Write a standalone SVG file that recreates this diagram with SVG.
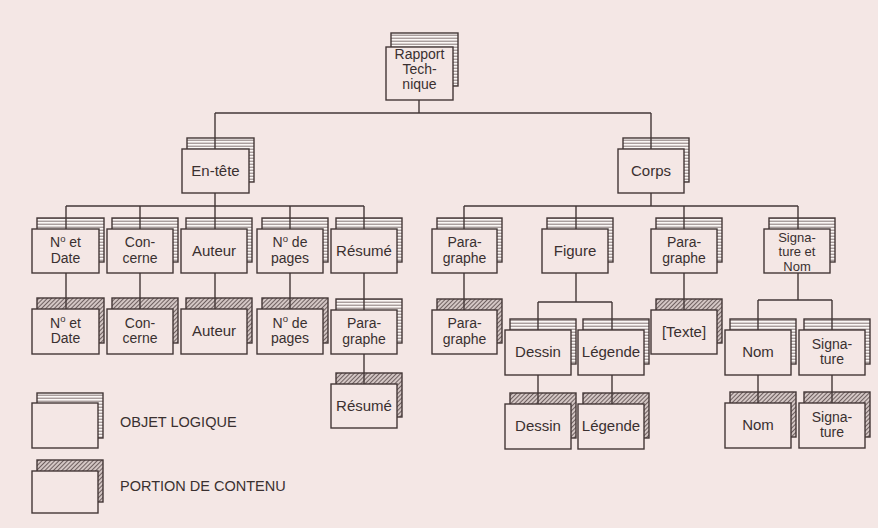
<svg xmlns="http://www.w3.org/2000/svg" width="878" height="528" viewBox="0 0 878 528">
<defs>
<pattern id="stripes" patternUnits="userSpaceOnUse" width="6" height="3">
<rect width="6" height="3" fill="#fbf7f5"/>
<line x1="0" y1="2.2" x2="6" y2="2.2" stroke="#776868" stroke-width="0.9"/>
</pattern>
<pattern id="hatch" patternUnits="userSpaceOnUse" width="3" height="3" patternTransform="rotate(45)">
<rect width="3" height="3" fill="#d8cbc9"/>
<line x1="1.5" y1="0" x2="1.5" y2="3" stroke="#6e6060" stroke-width="1.1"/>
</pattern>
<style>
.front{fill:#f4e7e5;stroke:#433737;stroke-width:1.4}
.logic{fill:url(#stripes);stroke:#433737;stroke-width:1.4}
.content{fill:url(#hatch);stroke:#433737;stroke-width:1.4}
text{font-family:"Liberation Sans",Arial,sans-serif;font-size:15px;fill:#3a3030;text-anchor:middle}
text.ml{font-size:14px}
text.ml3{font-size:13px}
.leg{text-anchor:start;font-size:14.5px}
.sup{font-size:9.5px}
#connectors line{stroke:#433737;stroke-width:1.4}
</style>
</defs>
<rect width="878" height="528" fill="#f4e7e5"/>

<g id="root">
<rect class="logic" x="391" y="33" width="67" height="53"/>
<rect class="front" x="386" y="47" width="67" height="53"/>
<text class="ml" x="419.5" y="58.5">Rapport<tspan x="419.5" dy="15.4">Tech-</tspan><tspan x="419.5" dy="15.4">nique</tspan></text>
</g>

<g id="entete">
<rect class="logic" x="187" y="138" width="67" height="44"/>
<rect class="front" x="182" y="149" width="67" height="44"/>
<text x="215.5" y="176">En-tête</text>
</g>
<g id="corps">
<rect class="logic" x="623" y="138" width="66" height="44"/>
<rect class="front" x="618" y="149" width="66" height="44"/>
<text x="651" y="176">Corps</text>
</g>

<g id="ndate">
<rect class="logic" x="37" y="218" width="67" height="44"/>
<rect class="front" x="32" y="229" width="67" height="44"/>
<text class="ml" x="65.5" y="247">N<tspan class="sup" dy="-5.5">o</tspan><tspan dy="5.5"> et</tspan><tspan x="65.5" dy="15.7">Date</tspan></text>
</g>
<g id="concerne">
<rect class="logic" x="112" y="218" width="66" height="44"/>
<rect class="front" x="107" y="229" width="66" height="44"/>
<text class="ml" x="140" y="247">Con-<tspan x="140" dy="15.7">cerne</tspan></text>
</g>
<g id="auteur">
<rect class="logic" x="186" y="218" width="66" height="44"/>
<rect class="front" x="181" y="229" width="66" height="44"/>
<text x="214" y="256">Auteur</text>
</g>
<g id="npages">
<rect class="logic" x="262" y="218" width="66" height="44"/>
<rect class="front" x="257" y="229" width="66" height="44"/>
<text class="ml" x="290" y="247">N<tspan class="sup" dy="-5.5">o</tspan><tspan dy="5.5"> de</tspan><tspan x="290" dy="15.7">pages</tspan></text>
</g>
<g id="resume">
<rect class="logic" x="336" y="218" width="66" height="44"/>
<rect class="front" x="331" y="229" width="66" height="44"/>
<text x="364" y="256">Résumé</text>
</g>
<g id="para1">
<rect class="logic" x="437" y="218" width="65" height="44"/>
<rect class="front" x="432" y="229" width="65" height="44"/>
<text class="ml" x="464.5" y="247">Para-<tspan x="464.5" dy="15.7">graphe</tspan></text>
</g>
<g id="figure">
<rect class="logic" x="547" y="218" width="66" height="44"/>
<rect class="front" x="542" y="229" width="66" height="44"/>
<text x="575" y="256">Figure</text>
</g>
<g id="para2">
<rect class="logic" x="656" y="218" width="66" height="44"/>
<rect class="front" x="651" y="229" width="66" height="44"/>
<text class="ml" x="684" y="247">Para-<tspan x="684" dy="15.7">graphe</tspan></text>
</g>
<g id="signom">
<rect class="logic" x="769" y="218" width="66" height="44"/>
<rect class="front" x="764" y="229" width="66" height="44"/>
<text class="ml3" x="797" y="241.5">Signa-<tspan x="797" dy="14.6">ture et</tspan><tspan x="797" dy="14.6">Nom</tspan></text>
</g>

<g id="ndate-c">
<rect class="content" x="37" y="298" width="67" height="45"/>
<rect class="front" x="32" y="309" width="67" height="45"/>
<text class="ml" x="65.5" y="327.5">N<tspan class="sup" dy="-5.5">o</tspan><tspan dy="5.5"> et</tspan><tspan x="65.5" dy="15.7">Date</tspan></text>
</g>
<g id="concerne-c">
<rect class="content" x="112" y="298" width="66" height="45"/>
<rect class="front" x="107" y="309" width="66" height="45"/>
<text class="ml" x="140" y="327.5">Con-<tspan x="140" dy="15.7">cerne</tspan></text>
</g>
<g id="auteur-c">
<rect class="content" x="186" y="298" width="66" height="45"/>
<rect class="front" x="181" y="309" width="66" height="45"/>
<text x="214" y="336">Auteur</text>
</g>
<g id="npages-c">
<rect class="content" x="262" y="298" width="66" height="45"/>
<rect class="front" x="257" y="309" width="66" height="45"/>
<text class="ml" x="290" y="327.5">N<tspan class="sup" dy="-5.5">o</tspan><tspan dy="5.5"> de</tspan><tspan x="290" dy="15.7">pages</tspan></text>
</g>
<g id="resume-para">
<rect class="logic" x="336" y="299" width="66" height="44"/>
<rect class="front" x="331" y="310" width="66" height="44"/>
<text class="ml" x="364" y="328">Para-<tspan x="364" dy="15.7">graphe</tspan></text>
</g>
<g id="para1-c">
<rect class="content" x="437" y="299" width="65" height="44"/>
<rect class="front" x="432" y="310" width="65" height="44"/>
<text class="ml" x="464.5" y="328">Para-<tspan x="464.5" dy="15.7">graphe</tspan></text>
</g>
<g id="texte-c">
<rect class="content" x="656" y="299" width="66" height="44"/>
<rect class="front" x="651" y="310" width="66" height="44"/>
<text x="684" y="337">[Texte]</text>
</g>

<g id="dessin">
<rect class="logic" x="510" y="319" width="66" height="45"/>
<rect class="front" x="505" y="330" width="66" height="45"/>
<text x="538" y="357">Dessin</text>
</g>
<g id="legende">
<rect class="logic" x="583" y="319" width="66" height="45"/>
<rect class="front" x="578" y="330" width="66" height="45"/>
<text x="611" y="357">Légende</text>
</g>
<g id="nom">
<rect class="logic" x="730" y="319" width="66" height="45"/>
<rect class="front" x="725" y="330" width="66" height="45"/>
<text x="758" y="357">Nom</text>
</g>
<g id="signature">
<rect class="logic" x="804" y="319" width="66" height="45"/>
<rect class="front" x="799" y="330" width="66" height="45"/>
<text class="ml" x="832" y="348.5">Signa-<tspan x="832" dy="15.7">ture</tspan></text>
</g>

<g id="resume-c">
<rect class="content" x="336" y="373" width="66" height="44"/>
<rect class="front" x="331" y="384" width="66" height="44"/>
<text x="364" y="411">Résumé</text>
</g>
<g id="dessin-c">
<rect class="content" x="510" y="393" width="66" height="45"/>
<rect class="front" x="505" y="404" width="66" height="45"/>
<text x="538" y="431">Dessin</text>
</g>
<g id="legende-c">
<rect class="content" x="583" y="393" width="66" height="45"/>
<rect class="front" x="578" y="404" width="66" height="45"/>
<text x="611" y="431">Légende</text>
</g>
<g id="nom-c">
<rect class="content" x="730" y="392" width="66" height="45"/>
<rect class="front" x="725" y="403" width="66" height="45"/>
<text x="758" y="430">Nom</text>
</g>
<g id="signature-c">
<rect class="content" x="804" y="392" width="66" height="45"/>
<rect class="front" x="799" y="403" width="66" height="45"/>
<text class="ml" x="832" y="421.5">Signa-<tspan x="832" dy="15.7">ture</tspan></text>
</g>

<g id="legend-logic">
<rect class="logic" x="37" y="393" width="66" height="45"/>
<rect class="front" x="32" y="403" width="66" height="45"/>
<text class="leg" x="120" y="427">OBJET LOGIQUE</text>
</g>
<g id="legend-content">
<rect class="content" x="37" y="460" width="66" height="42"/>
<rect class="front" x="32" y="471" width="66" height="42"/>
<text class="leg" x="120" y="491">PORTION DE CONTENU</text>
</g>

<g id="connectors">
<line x1="419" y1="100" x2="419" y2="113"/>
<line x1="215" y1="113" x2="651" y2="113"/>
<line x1="215" y1="113" x2="215" y2="149"/>
<line x1="651" y1="113" x2="651" y2="149"/>

<line x1="215" y1="193" x2="215" y2="206"/>
<line x1="66" y1="206" x2="364" y2="206"/>
<line x1="66" y1="206" x2="66" y2="229"/>
<line x1="140" y1="206" x2="140" y2="229"/>
<line x1="215" y1="206" x2="215" y2="229"/>
<line x1="290" y1="206" x2="290" y2="229"/>
<line x1="364" y1="206" x2="364" y2="229"/>

<line x1="66" y1="273" x2="66" y2="309"/>
<line x1="140" y1="273" x2="140" y2="309"/>
<line x1="215" y1="273" x2="215" y2="309"/>
<line x1="290" y1="273" x2="290" y2="309"/>
<line x1="364" y1="273" x2="364" y2="310"/>
<line x1="364" y1="354" x2="364" y2="384"/>

<line x1="651" y1="193" x2="651" y2="206"/>
<line x1="464" y1="206" x2="798" y2="206"/>
<line x1="464" y1="206" x2="464" y2="229"/>
<line x1="576" y1="206" x2="576" y2="229"/>
<line x1="684" y1="206" x2="684" y2="229"/>
<line x1="798" y1="206" x2="798" y2="229"/>

<line x1="464" y1="273" x2="464" y2="310"/>
<line x1="576" y1="273" x2="576" y2="302"/>
<line x1="538" y1="302" x2="612" y2="302"/>
<line x1="538" y1="302" x2="538" y2="330"/>
<line x1="612" y1="302" x2="612" y2="330"/>
<line x1="538" y1="375" x2="538" y2="404"/>
<line x1="612" y1="375" x2="612" y2="404"/>
<line x1="684" y1="273" x2="684" y2="310"/>

<line x1="798" y1="273" x2="798" y2="300"/>
<line x1="758" y1="300" x2="832" y2="300"/>
<line x1="758" y1="300" x2="758" y2="330"/>
<line x1="832" y1="300" x2="832" y2="330"/>
<line x1="758" y1="375" x2="758" y2="403"/>
<line x1="832" y1="375" x2="832" y2="403"/>
</g>
</svg>
